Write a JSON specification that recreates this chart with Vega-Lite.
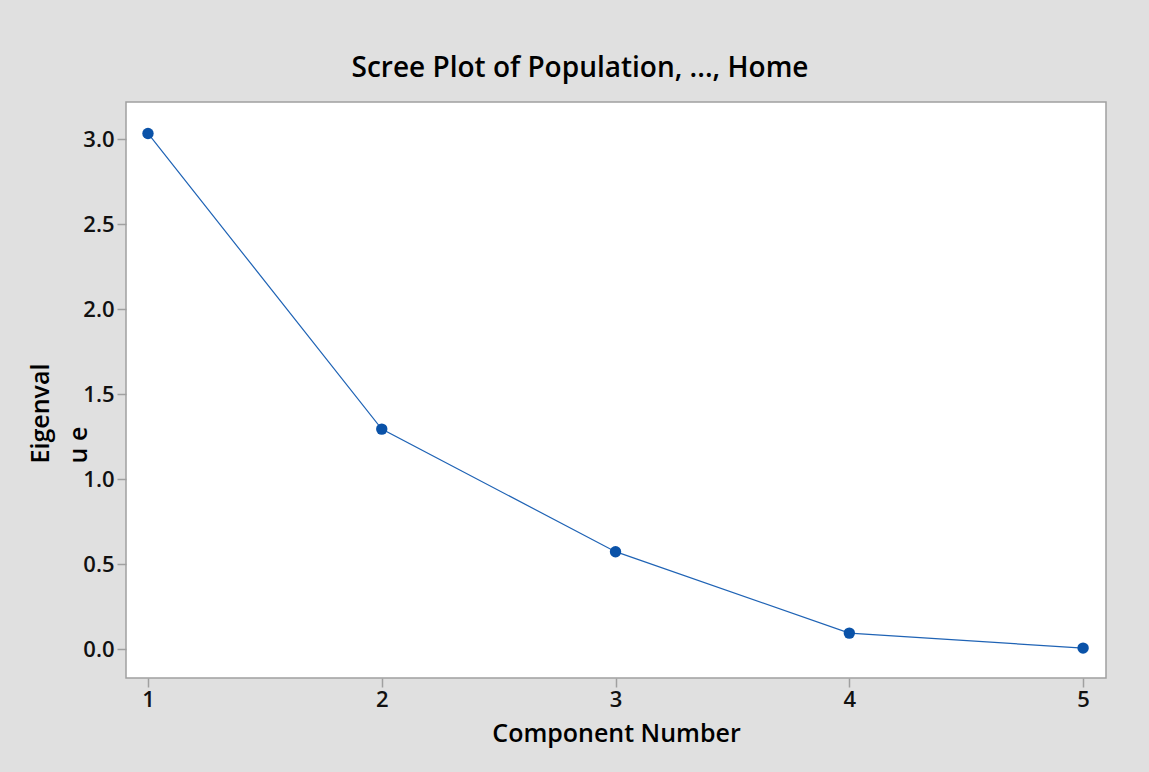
{
  "$schema": "https://vega.github.io/schema/vega-lite/v6.json",
  "autosize": {"type": "none"},
  "width": 980,
  "height": 576,
  "padding": {"left": 126, "top": 102, "right": 43, "bottom": 94},
  "background": "#e0e0e0",
  "config": {
    "font": "Open Sans",
    "view": {"fill": "white", "stroke": "#a0a0a0", "strokeWidth": 1.5},
    "axis": {
      "labelFontSize": 22,
      "labelFontWeight": 600,
      "labelColor": "#111111",
      "titleFontSize": 25,
      "titleFontWeight": 600,
      "titleColor": "black",
      "grid": false,
      "domain": false,
      "tickColor": "#a0a0a0",
      "tickSize": 9,
      "tickWidth": 1.5
    }
  },
  "title": {
    "text": "Scree Plot of Population, ..., Home",
    "fontSize": 28,
    "fontWeight": 600,
    "color": "black",
    "font": "Open Sans",
    "anchor": "middle",
    "dx": -36,
    "offset": 19
  },
  "data": {
    "values": [
      {"component": 1, "eigenvalue": 3.033},
      {"component": 2, "eigenvalue": 1.294},
      {"component": 3, "eigenvalue": 0.573},
      {"component": 4, "eigenvalue": 0.094},
      {"component": 5, "eigenvalue": 0.006}
    ]
  },
  "encoding": {
    "x": {
      "field": "component",
      "type": "quantitative",
      "scale": {"domain": [0.906, 5.098], "nice": false, "zero": false},
      "axis": {
        "title": "Component Number",
        "values": [1, 2, 3, 4, 5],
        "format": "d",
        "labelFontSize": 22,
        "labelPadding": 2,
        "titlePadding": 11
      }
    },
    "y": {
      "field": "eigenvalue",
      "type": "quantitative",
      "scale": {"domain": [-0.17, 3.218], "nice": false, "zero": false},
      "axis": {
        "title": ["Eigenval", "u e"],
        "values": [0, 0.5, 1, 1.5, 2, 2.5, 3],
        "format": ".1f",
        "labelFontSize": 22,
        "labelPadding": 3,
        "titleAngle": -90,
        "titleAlign": "left",
        "titleBaseline": "top",
        "titleX": -98,
        "titleY": 361,
        "titleLineHeight": 38
      }
    }
  },
  "layer": [
    {"mark": {"type": "line", "color": "#1f63b5", "strokeWidth": 1.2}},
    {"mark": {"type": "point", "filled": true, "color": "#0a52a8", "size": 130, "opacity": 1}}
  ]
}
